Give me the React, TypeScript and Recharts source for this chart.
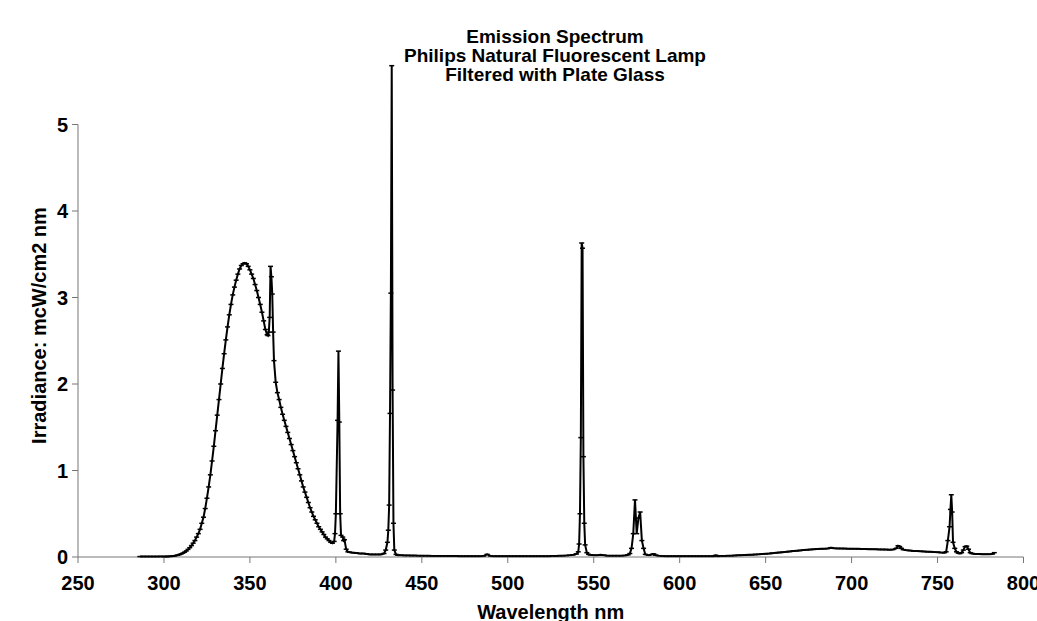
import React from 'react';
import { LineChart, Line, XAxis, YAxis, ReferenceLine, Label } from 'recharts';

// Philips natural fluorescent lamp, filtered with plate glass
// wavelengths (nm) and irradiance (mcW/cm2 nm), read off the plot by region

const uvNm = [
  286, 288, 290, 292, 294, 296, 298, 300, 301, 302, 303, 304, 305, 306, 307, 308, 309, 310,
  311, 312, 313, 314, 315, 316, 317, 318, 319, 320, 321, 322, 323, 324, 325, 326, 327, 328,
  329, 330, 331, 332, 333, 334, 335, 336, 337, 338, 339, 340, 341, 342, 343, 344, 345, 346,
  347, 348, 349, 350, 351, 352, 353, 354, 355, 356, 357, 358, 359, 360, 360.5, 361, 361.5,
  362, 362.5, 363, 363.5, 364, 365, 366, 367, 368, 369, 370, 371, 372, 373, 374, 375, 376,
  377, 378, 379, 380, 381, 382, 383, 384, 385, 386, 387, 388, 389, 390, 391, 392, 393, 394,
  395, 396, 397, 398, 399, 399.5, 400, 401, 401.5, 402, 402.5, 403, 404, 404.5, 405, 406,
  407, 408, 410,
];
const uvIrr = [
  0.005, 0.005, 0.005, 0.005, 0.005, 0.005, 0.006, 0.005, 0.005, 0.006, 0.007, 0.008, 0.01,
  0.013, 0.017, 0.022, 0.028, 0.035, 0.045, 0.056, 0.07, 0.088, 0.108, 0.132, 0.16, 0.19,
  0.23, 0.27, 0.32, 0.39, 0.46, 0.56, 0.68, 0.81, 0.95, 1.11, 1.28, 1.46, 1.64, 1.82, 2.0,
  2.18, 2.35, 2.51, 2.66, 2.8, 2.92, 3.03, 3.12, 3.2, 3.27, 3.33, 3.37, 3.39, 3.4, 3.39,
  3.36, 3.32, 3.27, 3.22, 3.15, 3.08, 3.0, 2.92, 2.83, 2.73, 2.63, 2.57, 2.56, 2.6, 2.77,
  3.36, 3.24, 3.04, 2.6, 2.27, 2.02, 1.9, 1.82, 1.73, 1.65, 1.58, 1.51, 1.44, 1.37, 1.3,
  1.23, 1.16, 1.09, 1.02, 0.95, 0.88, 0.81, 0.75, 0.69, 0.63, 0.57, 0.52, 0.47, 0.43, 0.39,
  0.35, 0.32, 0.29, 0.26, 0.23, 0.21, 0.19, 0.17, 0.16, 0.18, 0.27, 0.5, 1.58, 2.38, 1.56,
  0.5, 0.25, 0.23, 0.19, 0.2, 0.09, 0.06, 0.055, 0.05,
];

const blueNm = [
  412, 414, 416, 418, 420, 422, 424, 426, 428, 429, 430, 430.5, 431, 431.5, 432, 432.5, 433,
  433.5, 434, 435, 436, 438, 440, 442, 444, 446, 448, 450, 452, 454, 456, 458, 460, 462,
  464, 466, 468, 470, 472, 474, 476, 478, 480, 482, 484, 486, 488, 490, 492, 494, 496, 498,
  500, 502, 504, 506, 508, 510, 512, 514, 516, 518, 520, 522, 524, 526, 528, 530, 532, 534,
  536, 538, 540,
];
const blueIrr = [
  0.045, 0.04, 0.04, 0.035, 0.03, 0.03, 0.03, 0.03, 0.04, 0.08, 0.17, 0.31, 0.6, 1.66, 3.05,
  5.68, 1.93, 0.39, 0.08, 0.03, 0.02, 0.02, 0.018, 0.018, 0.016, 0.016, 0.015, 0.015, 0.014,
  0.014, 0.013, 0.013, 0.012, 0.012, 0.012, 0.011, 0.011, 0.011, 0.01, 0.01, 0.01, 0.01,
  0.01, 0.01, 0.01, 0.012, 0.03, 0.012, 0.01, 0.01, 0.01, 0.01, 0.01, 0.01, 0.01, 0.01, 0.01,
  0.01, 0.01, 0.01, 0.01, 0.01, 0.01, 0.01, 0.01, 0.012, 0.012, 0.014, 0.015, 0.017, 0.02,
  0.025, 0.035,
];

const greenNm = [
  541, 541.5, 542, 542.5, 543, 543.5, 544, 544.5, 545, 546, 547, 548, 550, 552, 554, 556,
  558, 560, 562, 564, 566, 568, 570, 571, 572, 573, 574, 575, 576, 577, 578, 579, 580, 582,
  584, 585, 586, 588, 590, 592, 594, 596, 598, 600,
];
const greenIrr = [
  0.06, 0.15, 0.5, 1.38, 3.63, 3.57, 1.16, 0.39, 0.14, 0.05, 0.03, 0.025, 0.02, 0.02, 0.025,
  0.02, 0.015, 0.015, 0.015, 0.015, 0.015, 0.018, 0.025, 0.04, 0.1, 0.27, 0.66, 0.27, 0.45,
  0.52, 0.19, 0.1, 0.03, 0.02, 0.03, 0.035, 0.02, 0.015, 0.012, 0.01, 0.01, 0.01, 0.01, 0.01,
];

const redNm = [
  602, 604, 606, 608, 610, 612, 614, 616, 618, 620, 621, 622, 624, 626, 628, 630, 632, 634,
  636, 638, 640, 642, 644, 646, 648, 650, 652, 654, 656, 658, 660, 662, 664, 666, 668, 670,
  672, 674, 676, 678, 680, 682, 684, 686, 688, 690, 692, 694, 696, 698, 700, 702, 704, 706,
  708, 710, 712, 714, 716, 718, 720, 722, 724, 726, 727, 728, 729, 730, 732, 734, 736, 738,
  740, 742, 744, 746, 748, 750, 752, 754, 755, 756, 757, 757.5, 758, 758.5, 759, 760, 761,
  762, 763, 764, 765, 766, 767, 768, 769, 770, 772, 774, 776, 778, 780, 782, 783,
];
const redIrr = [
  0.01, 0.01, 0.01, 0.01, 0.01, 0.01, 0.01, 0.01, 0.01, 0.01, 0.02, 0.01, 0.012, 0.013,
  0.014, 0.015, 0.017, 0.019, 0.021, 0.023, 0.025, 0.027, 0.029, 0.031, 0.034, 0.037, 0.04,
  0.044, 0.048, 0.052, 0.056, 0.06, 0.064, 0.068, 0.072, 0.076, 0.08, 0.083, 0.086, 0.089,
  0.092, 0.094, 0.096, 0.098, 0.108, 0.1, 0.099, 0.098, 0.097, 0.096, 0.096, 0.095, 0.094,
  0.093, 0.092, 0.091, 0.09, 0.089, 0.088, 0.087, 0.086, 0.085, 0.086, 0.1, 0.13, 0.12, 0.1,
  0.085, 0.078, 0.074, 0.07, 0.068, 0.066, 0.064, 0.062, 0.06, 0.057, 0.055, 0.052, 0.05,
  0.06, 0.19, 0.35, 0.55, 0.72, 0.52, 0.17, 0.1, 0.06, 0.045, 0.04, 0.05, 0.08, 0.12, 0.125,
  0.09, 0.05, 0.04, 0.035, 0.035, 0.033, 0.032, 0.032, 0.035, 0.05,
];

const xTicks = [250, 300, 350, 400, 450, 500, 550, 600, 650, 700, 750, 800];
const yTicks = [0, 1, 2, 3, 4, 5];
const titleLines = ['Emission Spectrum', 'Philips Natural Fluorescent Lamp', 'Filtered with Plate Glass'];

const nm = [...uvNm, ...blueNm, ...greenNm, ...redNm];
const irr = [...uvIrr, ...blueIrr, ...greenIrr, ...redIrr];
const data = nm.map((w, i) => ({ nm: w, irr: irr[i] }));

const font = '"Liberation Sans", Arial, sans-serif';
const tickStyle = { fontFamily: font, fontWeight: 700, fontSize: 20, fill: '#000' };

// little dash marker, like the excel one
const Dash = (props: any) => {
  const { cx, cy, index } = props;
  if (cx == null || cy == null) return null;
  return (
    <line key={`d-${index}`} x1={cx - 2.5} x2={cx + 2.5} y1={cy} y2={cy} stroke="#000" strokeWidth={1.5} />
  );
};

const YTitle = (props: any) => {
  const { viewBox } = props;
  const cx = 39;
  const cy = viewBox.y + viewBox.height / 2 + 28;
  return (
    <text
      x={cx}
      y={cy}
      transform={`rotate(-90, ${cx}, ${cy})`}
      textAnchor="middle"
      dominantBaseline="central"
      style={tickStyle}
    >
      Irradiance: mcW/cm2 nm
    </text>
  );
};

export default function App() {
  return (
    <div style={{ position: 'absolute', left: 0, top: 0, width: 1037, height: 621, background: '#fff' }}>
      <div
        style={{
          position: 'absolute',
          left: 255,
          width: 600,
          top: 27,
          textAlign: 'center',
          fontFamily: font,
          fontWeight: 700,
          fontSize: 19,
          lineHeight: '19px',
          zIndex: 1,
        }}
      >
        {titleLines.map((t) => (
          <div key={t}>{t}</div>
        ))}
      </div>
      <LineChart width={1037} height={621} data={data} margin={{ top: 38, right: 13.5, bottom: 14, left: 0 }}>
        <XAxis
          dataKey="nm"
          type="number"
          domain={[250, 800]}
          ticks={xTicks}
          interval={0}
          height={50}
          tickSize={6}
          tickMargin={13}
          tick={tickStyle}
          axisLine={{ stroke: '#777' }}
          tickLine={{ stroke: '#777' }}
        >
          <Label value="Wavelength nm" position="insideBottom" offset={-12} style={tickStyle} />
        </XAxis>
        <YAxis
          type="number"
          domain={[0, 6]}
          ticks={yTicks}
          width={78}
          tickSize={6}
          tickMargin={4}
          tick={tickStyle}
          axisLine={false}
          tickLine={{ stroke: '#777' }}
        >
          <Label content={YTitle} />
        </YAxis>
        <ReferenceLine segment={[{ x: 250, y: 0 }, { x: 250, y: 5 }]} stroke="#777" />
        <Line
          type="linear"
          dataKey="irr"
          stroke="#000"
          strokeWidth={2}
          dot={Dash}
          activeDot={false}
          isAnimationActive={false}
        />
      </LineChart>
    </div>
  );
}
